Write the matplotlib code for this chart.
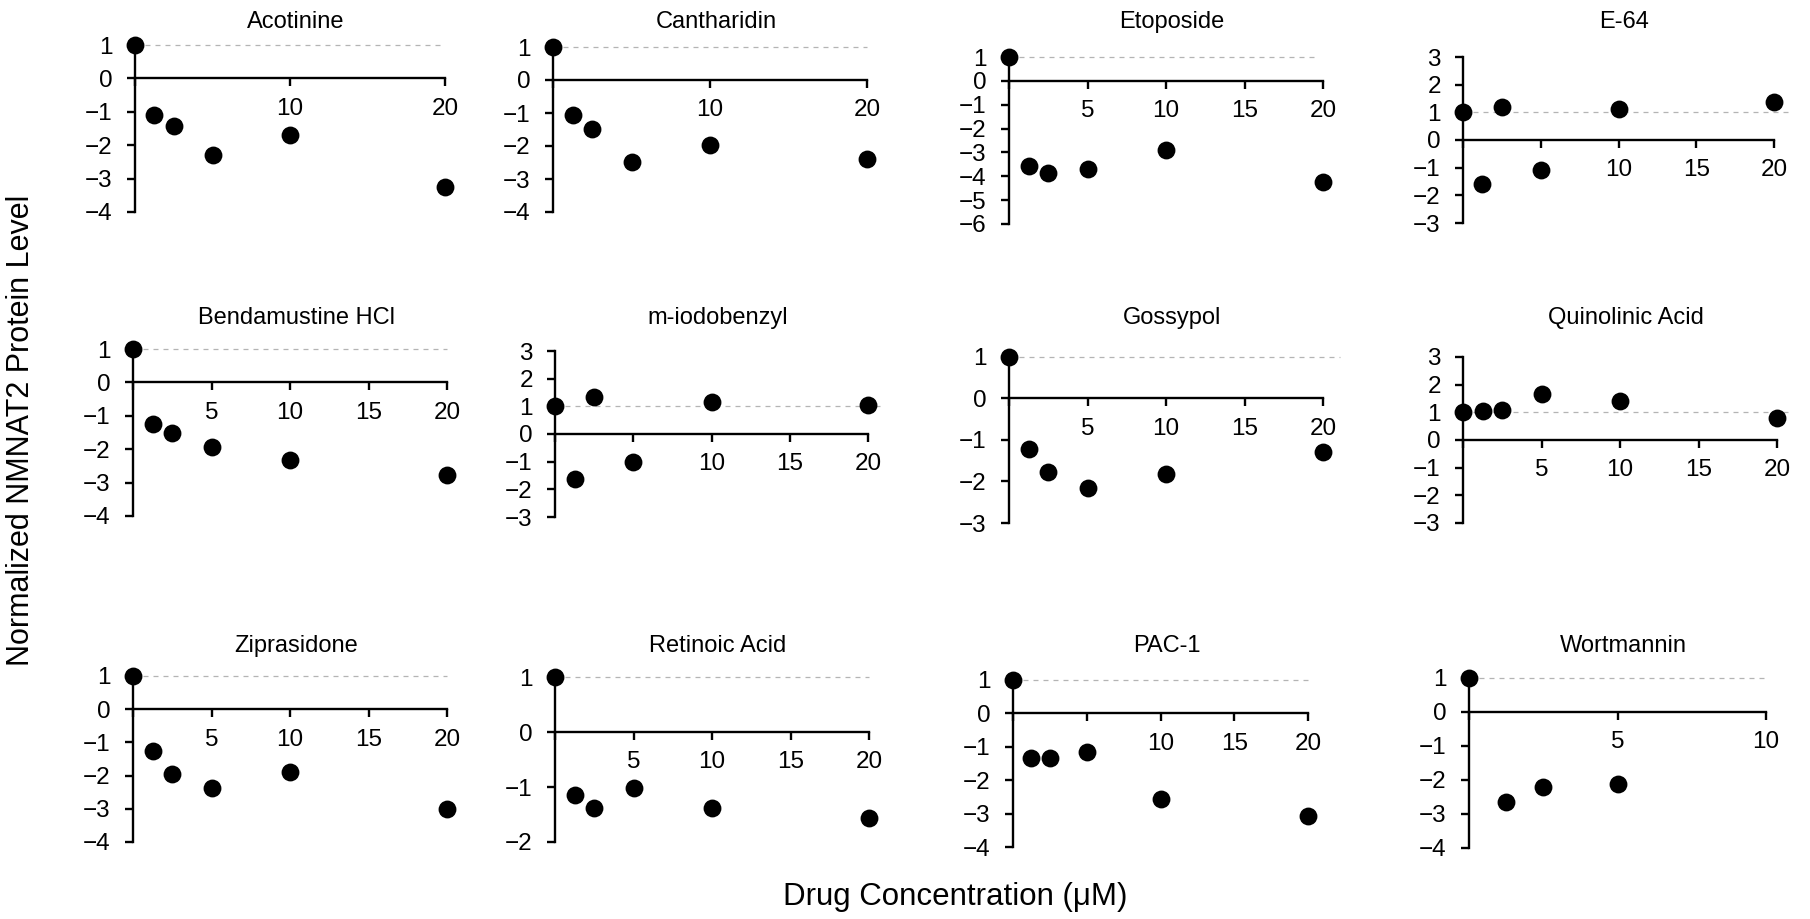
import matplotlib.pyplot as plt

plt.rcParams['font.family'] = ['Liberation Sans', 'DejaVu Sans']

drugs = ['Acotinine', 'Cantharidin', 'Etoposide', 'E-64',
         'Bendamustine HCl', 'm-iodobenzyl', 'Gossypol', 'Quinolinic Acid',
         'Ziprasidone', 'Retinoic Acid', 'PAC-1', 'Wortmannin']

conc = [0, 1.25, 2.5, 5, 10, 20]
concWort = [0, 1.25, 2.5, 5]

acotinine = [1, -1.10, -1.44, -2.29, -1.70, -3.26]
cantharidin = [1, -1.06, -1.49, -2.49, -1.98, -2.38]
etoposide = [1, -3.58, -3.86, -3.68, -2.88, -4.24]
e64 = [1, -1.60, 1.20, -1.09, 1.11, 1.39]
bendamustine = [1, -1.25, -1.52, -1.93, -2.32, -2.77]
iodobenzyl = [1, -1.63, 1.34, -1.00, 1.16, 1.04]
gossypol = [1, -1.22, -1.78, -2.16, -1.82, -1.29]
quinolinic = [1, 1.04, 1.09, 1.66, 1.41, 0.81]
ziprasidone = [1, -1.26, -1.95, -2.38, -1.88, -3.01]
retinoic = [1, -1.15, -1.39, -1.01, -1.38, -1.57]
pac1 = [1, -1.33, -1.35, -1.15, -2.55, -3.07]
wortmannin = [1, -2.64, -2.22, -2.11]

xValues = [conc] * 11 + [concWort]
yValues = [acotinine, cantharidin, etoposide, e64, bendamustine, iodobenzyl,
           gossypol, quinolinic, ziprasidone, retinoic, pac1, wortmannin]

yLimits = [(-4, 1), (-4, 1), (-6, 1), (-3, 3),
           (-4, 1), (-3, 3), (-3, 1), (-3, 3),
           (-4, 1), (-2, 1), (-4, 1), (-4, 1)]
xMax = [20] * 11 + [10]
xStep = [10, 10, 5, 5, 5, 5, 5, 5, 5, 5, 5, 5]
xTickLabels = [['', '10', '20'], ['', '10', '20'],
               ['', '5', '10', '15', '20'], ['', '', '10', '15', '20'],
               ['', '5', '10', '15', '20'], ['', '', '10', '15', '20'],
               ['', '5', '10', '15', '20'], ['', '5', '10', '15', '20'],
               ['', '5', '10', '15', '20'], ['', '5', '10', '15', '20'],
               ['', '', '10', '15', '20'], ['', '5', '10']]
refEnd = [20, 20, 19.6, 21, 20, 21, 21.1, 21, 20, 20, 20, 10]

W, H = 1810, 919
# axes boxes in pixels: left, right, top, bottom
boxes = [(135, 445, 45, 212), (553, 867, 47, 212), (1009, 1323, 57, 224), (1463, 1774, 57, 223),
         (133, 447, 349, 516), (555, 868, 351, 517), (1009, 1323, 357, 523), (1463, 1777, 357, 523),
         (133, 447, 676, 842), (555, 869, 677, 842), (1013, 1308, 680, 847), (1469, 1766, 678, 848)]
titleY = [22, 318, 646]

fig = plt.figure(figsize=(W / 100, H / 100), dpi=100)

for i, name in enumerate(drugs):
    l, r, t, b = boxes[i]
    ax = fig.add_axes([l / W, 1 - b / H, (r - l) / W, (b - t) / H])
    ax.set_axisbelow(True)
    ymin, ymax = yLimits[i]
    ax.set_xlim(0, xMax[i])
    ax.set_ylim(ymin, ymax)
    ax.plot([0, refEnd[i]], [1, 1], color='#b4b4b4', lw=0.9, dashes=(4, 4), clip_on=False, zorder=2)
    ax.scatter(xValues[i], yValues[i], s=165, color='black', clip_on=False, zorder=3, linewidths=0)
    ax.spines['top'].set_visible(False)
    ax.spines['right'].set_visible(False)
    ax.spines['bottom'].set_position(('data', 0))
    ax.spines['left'].set_position(('data', 0))
    for sp in ['bottom', 'left']:
        ax.spines[sp].set_linewidth(1.7)
    ax.set_xticks(range(0, xMax[i] + 1, xStep[i]))
    ax.set_xticklabels(xTickLabels[i])
    ax.set_yticks(range(ymin, ymax + 1))
    ax.tick_params(axis='both', direction='out', length=6, width=1.7, labelsize=17.5)
    ax.tick_params(axis='x', pad=8)
    ax.tick_params(axis='y', pad=10)
    ax.patch.set_alpha(0)
    fig.text((l + r) / 2 / W + 6 / W, 1 - titleY[i // 4] / H, name,
             ha='center', va='center', fontsize=17)

fig.text(955 / W, 1 - 897 / H, 'Drug Concentration (\u03bcM)', ha='center', va='center', fontsize=22.5)
fig.text(21 / W, 1 - 430 / H, 'Normalized NMNAT2 Protein Level', ha='center', va='center',
         rotation=90, fontsize=22)

fig.savefig('out.png', dpi=100)
